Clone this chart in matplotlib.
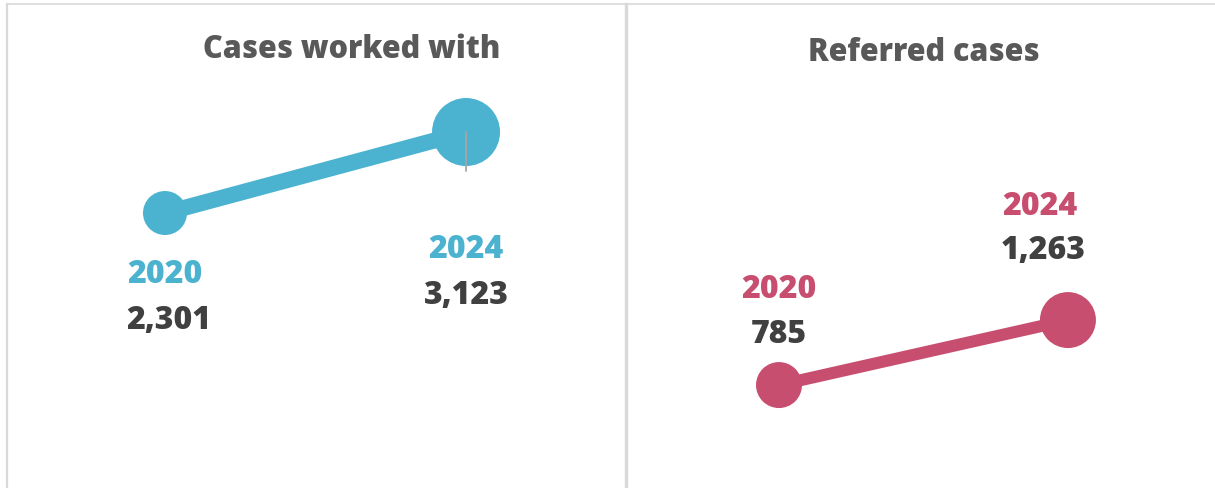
import matplotlib
matplotlib.use("Agg")
import matplotlib.pyplot as plt
from matplotlib.lines import Line2D

plt.rcParams['font.family'] = ['Open Sans', 'DejaVu Sans']

years = ["2020", "2024"]
worked_values = [2301, 3123]
referred_values = [785, 1263]
titles = ["Cases worked with", "Referred cases"]

BLUE = "#4bb3d0"
PINK = "#c84e70"
VALUE_GREY = "#404040"
TITLE_GREY = "#595959"
BORDER = "#d9d9d9"
WEIGHT = 800

W, H = 1215, 489
fig = plt.figure(figsize=(W / 100, H / 100), dpi=100)

def px2pt(p):
    return p * 0.72

# left panel
ax1 = fig.add_axes([0, 0, 625 / W, 1])
ax1.set_xlim(-0.548, 1.528)
ax1.set_ylim(-490, 4473)
x = [0, 1]
ax1.plot(x, worked_values, color=BLUE, lw=px2pt(16), zorder=1, solid_capstyle="butt")
ax1.scatter(x, worked_values, s=[px2pt(44) ** 2, px2pt(68) ** 2], color=BLUE, zorder=2, linewidths=0)
ax1.annotate("", xy=(1, worked_values[1]), xytext=(0, -px2pt(39)), textcoords="offset points",
             arrowprops=dict(arrowstyle="-", color="#a6a6a6", lw=1.3, shrinkA=0, shrinkB=0), zorder=3)
lbl1 = [(0, 4, -61, -107), (0, 0, -117, -163)]
for i, (dx1, dx2, dy1, dy2) in enumerate(lbl1):
    ax1.annotate(years[i], (x[i], worked_values[i]), xytext=(px2pt(dx1), px2pt(dy1)),
                 textcoords="offset points", ha="center", va="center",
                 fontsize=23, fontweight=WEIGHT, color=BLUE)
    ax1.annotate(f"{worked_values[i]:,}", (x[i], worked_values[i]), xytext=(px2pt(dx2), px2pt(dy2)),
                 textcoords="offset points", ha="center", va="center",
                 fontsize=23, fontweight=WEIGHT, color=VALUE_GREY)
ax1.axis("off")

# right panel
ax2 = fig.add_axes([625 / W, 0, 590 / W, 1])
ax2.set_xlim(-0.533, 1.509)
ax2.set_ylim(28, 3624)
ax2.plot(x, referred_values, color=PINK, lw=px2pt(12), zorder=1, solid_capstyle="butt")
ax2.scatter(x, referred_values, s=[px2pt(46) ** 2, px2pt(56) ** 2], color=PINK, zorder=2, linewidths=0)
lbl2 = [(0, 0, 96, 51), (-28, -25, 114, 70)]
for i, (dx1, dx2, dy1, dy2) in enumerate(lbl2):
    ax2.annotate(years[i], (x[i], referred_values[i]), xytext=(px2pt(dx1), px2pt(dy1)),
                 textcoords="offset points", ha="center", va="center",
                 fontsize=23, fontweight=WEIGHT, color=PINK)
    ax2.annotate(f"{referred_values[i]:,}", (x[i], referred_values[i]), xytext=(px2pt(dx2), px2pt(dy2)),
                 textcoords="offset points", ha="center", va="center",
                 fontsize=23, fontweight=WEIGHT, color=VALUE_GREY)
ax2.axis("off")

# titles
fig.text(352 / W, 1 - 50 / H, titles[0], ha="center", va="center",
         fontsize=22, fontweight=WEIGHT, color=TITLE_GREY)
fig.text(924 / W, 1 - 53 / H, titles[1], ha="center", va="center",
         fontsize=22, fontweight=WEIGHT, color=TITLE_GREY)

# panel borders
fig.add_artist(Line2D([7 / W, 1], [1 - 4.5 / H, 1 - 4.5 / H], color=BORDER, lw=1.2))
fig.add_artist(Line2D([7 / W, 7 / W], [0, 1 - 4.5 / H], color=BORDER, lw=1.6))
fig.add_artist(Line2D([625.5 / W, 625.5 / W], [0, 1 - 4.5 / H], color=BORDER, lw=2.4))

fig.savefig("out.png", dpi=100)
